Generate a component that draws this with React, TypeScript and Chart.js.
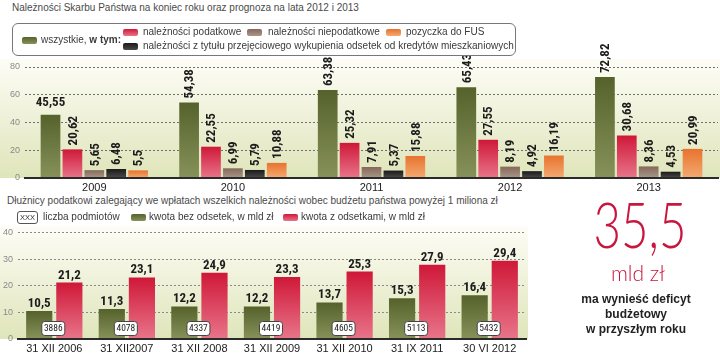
import React, { useEffect, useRef } from "react";
import { Chart, registerables } from "chart.js";
Chart.register(...registerables);

// ---- Top chart data ----
const years = ["2009", "2010", "2011", "2012", "2013"];
const wszystkie = [45.55, 54.38, 63.38, 65.43, 72.82];
const podatkowe = [20.62, 22.55, 25.32, 27.55, 30.68];
const niepodatkowe = [5.65, 6.99, 7.91, 8.19, 8.36];
const wykup = [6.48, 5.79, 5.37, 4.92, 4.53];
const fus = [5.5, 10.88, 15.88, 16.19, 20.99];
const topMax = 80;
const topStep = 20;

// ---- Bottom chart data ----
const dates = ["31 XII 2006", "31 XII2007", "31 XII 2008", "31 XII 2009", "31 XII 2010", "31 IX 2011", "30 VI 2012"];
const bezOdsetek = [10.5, 11.3, 12.2, 12.2, 13.7, 15.3, 16.4];
const zOdsetkami = [21.2, 23.1, 24.9, 23.3, 25.3, 27.9, 29.4];
const podmioty = [3886, 4078, 4337, 4419, 4605, 5113, 5432];
const botMax = 40;
const botStep = 10;

const SANS = '"Liberation Sans", Arial, sans-serif';
const NARROW = '"Liberation Sans Narrow", "Roboto Condensed", "DejaVu Sans Condensed", sans-serif';

const COLORS = {
  green: ["#56622b", "#86925a"],
  red: ["#cf1838", "#e8758a"],
  brown: ["#86695a", "#a8978a"],
  black: ["#1a1a1a", "#4a4a4a"],
  orange: ["#e8732e", "#f3aa72"],
};

const fmt = (v: number) => String(v).replace(".", ",");

const makeGrad = (topCol: string, botCol: string) => (context: any) => {
  const chart = context.chart;
  const y = chart.scales && chart.scales.y;
  if (!y || context.type !== "data") return topCol;
  const v = context.raw as number;
  const y0 = y.getPixelForValue(0);
  const y1 = y.getPixelForValue(v);
  if (!isFinite(y0) || !isFinite(y1) || y0 === y1) return topCol;
  const g = chart.ctx.createLinearGradient(0, y1, 0, y0);
  g.addColorStop(0, topCol);
  g.addColorStop(1, botCol);
  return g;
};

const bgPlugin = (extraTop: number) => ({
  id: "bgGrad",
  beforeDraw(chart: any) {
    const { ctx, chartArea } = chart;
    if (!chartArea) return;
    const top = chartArea.top - extraTop;
    const g = ctx.createLinearGradient(0, top, 0, chartArea.bottom);
    g.addColorStop(0, "#fdfdf6");
    g.addColorStop(1, "#dfe5ba");
    ctx.save();
    ctx.fillStyle = g;
    ctx.fillRect(0, top, chartArea.right + 2, chartArea.bottom - top);
    ctx.restore();
  },
});

const topLabels = {
  id: "topLabels",
  afterDatasetsDraw(chart: any) {
    const ctx = chart.ctx;
    ctx.save();
    ctx.fillStyle = "#1c1c1c";
    ctx.font = `bold 13px ${NARROW}`;
    chart.data.datasets.forEach((ds: any, di: number) => {
      const meta = chart.getDatasetMeta(di);
      meta.data.forEach((bar: any, i: number) => {
        const txt = fmt(ds.data[i]);
        const { x, y } = bar.getProps(["x", "y"], true);
        if (di === 0 && i === 0) {
          ctx.textAlign = "center";
          ctx.textBaseline = "alphabetic";
          ctx.fillText(txt, x, y - 9);
        } else {
          ctx.save();
          ctx.translate(x + 1, y - 4);
          ctx.rotate(-Math.PI / 2);
          ctx.textAlign = "left";
          ctx.textBaseline = "middle";
          ctx.fillText(txt, 0, 0);
          ctx.restore();
        }
      });
    });
    ctx.restore();
  },
};

const botLabels = {
  id: "botLabels",
  afterDatasetsDraw(chart: any) {
    const ctx = chart.ctx;
    ctx.save();
    ctx.fillStyle = "#1c1c1c";
    ctx.font = `bold 13px ${NARROW}`;
    ctx.textAlign = "center";
    ctx.textBaseline = "alphabetic";
    chart.data.datasets.forEach((ds: any, di: number) => {
      const meta = chart.getDatasetMeta(di);
      meta.data.forEach((bar: any, i: number) => {
        const { x, y } = bar.getProps(["x", "y"], true);
        ctx.fillText(fmt(ds.data[i]), x, y - 4);
      });
    });
    const xs = chart.scales.x;
    const ys = chart.scales.y;
    const y0 = ys.getPixelForValue(0);
    ctx.font = `9.5px ${NARROW}`;
    ctx.textBaseline = "middle";
    podmioty.forEach((n, i) => {
      const cx = xs.getPixelForValue(i) - 1;
      const cy = y0 - 10.5;
      const w = 23;
      const h = 14;
      ctx.beginPath();
      ctx.roundRect(cx - w / 2, cy - h / 2, w, h, 3);
      ctx.fillStyle = "#ffffff";
      ctx.fill();
      ctx.lineWidth = 1;
      ctx.strokeStyle = "#444";
      ctx.stroke();
      ctx.fillStyle = "#1c1c1c";
      ctx.fillText(String(n), cx, cy + 0.5);
    });
    ctx.restore();
  },
};

function TopChart() {
  const ref = useRef<HTMLCanvasElement>(null);
  useEffect(() => {
    if (!ref.current) return;
    const mk = (label: string, data: number[], c: string[]) => ({
      label,
      data,
      backgroundColor: makeGrad(c[0], c[1]),
      categoryPercentage: 0.79,
      barPercentage: 0.9,
    });
    const chart = new Chart(ref.current, {
      type: "bar",
      data: {
        labels: years,
        datasets: [
          mk("wszystkie", wszystkie, COLORS.green),
          mk("należności podatkowe", podatkowe, COLORS.red),
          mk("należności niepodatkowe", niepodatkowe, COLORS.brown),
          mk("należności z tytułu przejęciowego wykupienia odsetek od kredytów mieszkaniowych", wykup, COLORS.black),
          mk("pozyczka do FUS", fus, COLORS.orange),
        ],
      },
      options: {
        animation: false,
        responsive: false,
        layout: { padding: { top: 47, right: 2, left: 0, bottom: 0 } },
        plugins: { legend: { display: false }, tooltip: { enabled: false } },
        scales: {
          x: {
            grid: { display: false, drawTicks: false },
            border: { display: true, color: "#2a2a2a", width: 2, z: 1 },
            ticks: { color: "#222", font: { size: 11, family: SANS }, padding: 3 },
            afterFit: (s: any) => { s.height = 17; },
          },
          y: {
            min: 0,
            max: topMax,
            ticks: { stepSize: topStep, color: "#8a8a8a", font: { size: 9, family: SANS }, padding: 5 },
            grid: { color: "#6f6f6f", drawTicks: false, lineWidth: 1 },
            border: { display: false, dash: [2, 2] },
            afterFit: (s: any) => { s.width = 25; },
          },
        },
      } as any,
      plugins: [bgPlugin(8), topLabels],
    });
    return () => chart.destroy();
  }, []);
  return <canvas ref={ref} width={720} height={175} style={{ position: "absolute", left: 0, top: 20, width: 720, height: 175 }} />;
}

function BottomChart() {
  const ref = useRef<HTMLCanvasElement>(null);
  useEffect(() => {
    if (!ref.current) return;
    const mk = (label: string, data: number[], c: string[]) => ({
      label,
      data,
      backgroundColor: makeGrad(c[0], c[1]),
      categoryPercentage: 0.83,
      barPercentage: 0.87,
    });
    const chart = new Chart(ref.current, {
      type: "bar",
      data: {
        labels: dates,
        datasets: [
          mk("kwota bez odsetek, w mld zł", bezOdsetek, COLORS.green),
          mk("kwota z odsetkami, w mld zł", zOdsetkami, COLORS.red),
        ],
      },
      options: {
        animation: false,
        responsive: false,
        layout: { padding: { top: 6, right: 9, left: 0, bottom: 0 } },
        plugins: { legend: { display: false }, tooltip: { enabled: false } },
        scales: {
          x: {
            grid: { display: false, drawTicks: false },
            border: { display: true, color: "#2a2a2a", width: 2, z: 1 },
            ticks: { color: "#222", font: { size: 11, family: SANS }, padding: 3 },
            afterFit: (s: any) => { s.height = 16; },
          },
          y: {
            min: 0,
            max: botMax,
            ticks: { stepSize: botStep, color: "#8a8a8a", font: { size: 9, family: SANS }, padding: 5 },
            grid: { color: "#8a8a8a", drawTicks: false, lineWidth: 1 },
            border: { display: false, dash: [2, 2] },
            afterFit: (s: any) => { s.width = 18; },
          },
        },
      } as any,
      plugins: [bgPlugin(6), botLabels],
    });
    return () => chart.destroy();
  }, []);
  return <canvas ref={ref} width={535} height={133} style={{ position: "absolute", left: 0, top: 222, width: 535, height: 133 }} />;
}

const Swatch = ({ c, left, top }: { c: string[]; left: number; top: number }) => (
  <div
    style={{
      position: "absolute",
      left,
      top,
      width: 15,
      height: 7,
      borderRadius: 2,
      background: `linear-gradient(${c[0]}, ${c[1]})`,
    }}
  />
);

const T = ({ left, top, children, style }: any) => (
  <div style={{ position: "absolute", left, top, whiteSpace: "nowrap", lineHeight: "12px", fontSize: 10, color: "#3a3a3a", fontFamily: SANS, ...style }}>
    {children}
  </div>
);

export default function App() {
  return (
    <div style={{ position: "absolute", left: 0, top: 0, width: 720, height: 355, background: "#fff", overflow: "hidden", fontFamily: SANS }}>
      <TopChart />
      <BottomChart />
      <T left={12} top={2} style={{ color: "#4a4a4a" }}>Należności Skarbu Państwa na koniec roku oraz prognoza na lata 2012 i 2013</T>
      <div
        style={{
          position: "absolute",
          left: 12,
          top: 23,
          width: 502,
          height: 31,
          border: "1px solid #777",
          borderRadius: 6,
          background: "#fff",
        }}
      />
      <Swatch c={COLORS.green} left={22} top={37} />
      <T left={41} top={34}>wszystkie, <b>w tym:</b></T>
      <Swatch c={COLORS.red} left={123} top={29} />
      <T left={143} top={26}>należności podatkowe</T>
      <Swatch c={COLORS.brown} left={247} top={29} />
      <T left={268} top={26}>należności niepodatkowe</T>
      <Swatch c={COLORS.orange} left={386} top={29} />
      <T left={406} top={26}>pozyczka do FUS</T>
      <Swatch c={COLORS.black} left={123} top={43} />
      <T left={143} top={40}>należności z tytułu przejęciowego wykupienia odsetek od kredytów mieszkaniowych</T>

      <T left={7} top={195} style={{ color: "#4a4a4a" }}>Dłużnicy podatkowi zalegający we wpłatach wszelkich należności wobec budżetu państwa powyżej 1 miliona zł</T>
      <div
        style={{
          position: "absolute",
          left: 17,
          top: 211,
          width: 19,
          height: 11,
          border: "1px solid #555",
          borderRadius: 3,
          fontSize: 7.5,
          lineHeight: "11px",
          textAlign: "center",
          color: "#333",
          fontFamily: SANS,
          background: "#fff",
        }}
      >
        XXX
      </div>
      <T left={43} top={211}>liczba podmiotów</T>
      <Swatch c={COLORS.green} left={131} top={214} />
      <T left={149} top={211}>kwota bez odsetek, w mld zł</T>
      <Swatch c={COLORS.red} left={283} top={214} />
      <T left={301} top={211}>kwota z odsetkami, w mld zł</T>

      <div
        style={{
          position: "absolute",
          left: 560,
          top: 192,
          width: 160,
          textAlign: "center",
          color: "#c8163e",
          fontFamily: "Lato, sans-serif",
          fontWeight: 300,
          fontSize: 64,
          lineHeight: "64px",
          transform: "scaleX(0.74)",
        }}
      >
        35,5
      </div>
      <div
        style={{
          position: "absolute",
          left: 560,
          top: 261,
          width: 156,
          textAlign: "center",
          color: "#c8163e",
          fontFamily: "Lato, sans-serif",
          fontWeight: 300,
          fontSize: 21,
          lineHeight: "24px",
        }}
      >
        mld zł
      </div>
      <div
        style={{
          position: "absolute",
          left: 556,
          top: 292,
          width: 160,
          textAlign: "center",
          color: "#222",
          fontFamily: SANS,
          fontWeight: "bold",
          fontSize: 12,
          lineHeight: "15px",
        }}
      >
        ma wynieść deficyt
        <br />
        budżetowy
        <br />
        w przyszłym roku
      </div>
    </div>
  );
}
